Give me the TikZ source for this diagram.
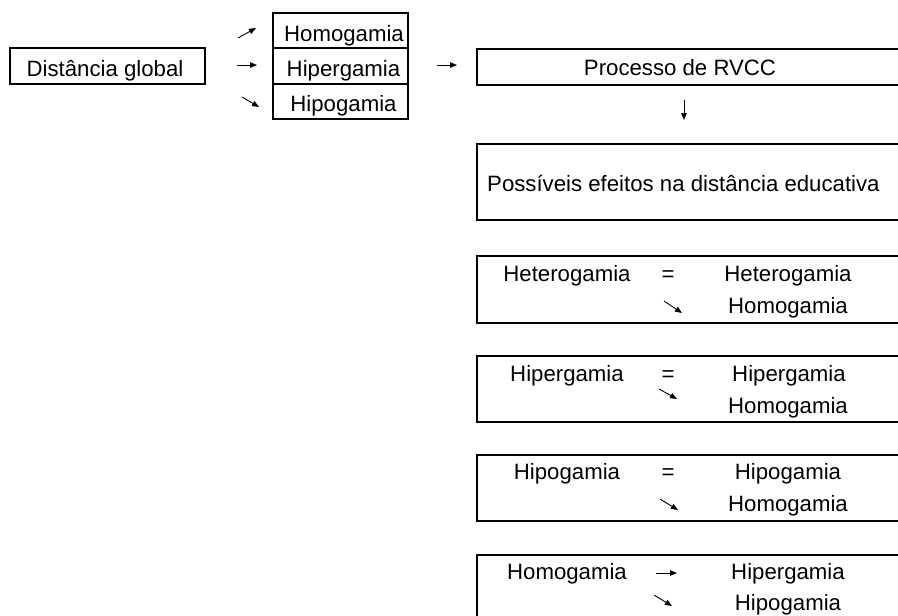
\documentclass[tikz,border=0pt]{standalone}
\usepackage{fontspec}
\setmainfont{Liberation Sans}
\usetikzlibrary{arrows.meta}
\tikzset{
  lbl/.style={anchor=base,inner sep=0pt,font=\fontsize{22.2}{26}\selectfont},
  lbox/.style={draw,line width=1.8pt},
  rbox/.style={draw,line width=1.6pt},
  arr/.style={line width=0.9pt,-{Triangle[length=7pt,width=5.5pt]}}
}
\begin{document}
\begin{tikzpicture}[x=1pt,y=-1pt]
\useasboundingbox (0,0) rectangle (898,616);
\clip (0,0) rectangle (898,616);
% left boxes
\draw[lbox] (10,48) rectangle (205,84);
\node[lbl] (dg) at (105,76) {Distância global};
\draw[lbox] (273,13) rectangle (408,48);
\draw[lbox] (273,48) rectangle (408,84);
\draw[lbox] (273,84) rectangle (408,119);
\node[lbl] (l1) at (344,41) {Homogamia};
\node[lbl] (l2) at (343.5,76.5) {Hipergamia};
\node[lbl] (l3) at (343.5,111) {Hipogamia};
% left arrows
\coordinate (a1s) at (238,38); \coordinate (a1e) at (256,28);
\coordinate (a2s) at (237,65); \coordinate (a2e) at (257,65);
\coordinate (a3s) at (242,97); \coordinate (a3e) at (259,107);
\draw[arr] (a1s) -- (a1e);
\draw[arr] (a2s) -- (a2e);
\draw[arr] (a3s) -- (a3e);
\coordinate (a4s) at (437,65); \coordinate (a4e) at (457,65);
\draw[arr] (a4s) -- (a4e);
% Processo
\draw[rbox] (477,49) rectangle (910,85);
\node[lbl] (pr) at (680,75.5) {Processo de RVCC};
\coordinate (d1s) at (684,100); \coordinate (d1e) at (684,120);
\draw[arr] (d1s) -- (d1e);
% Possiveis
\draw[rbox] (477,144) rectangle (910,220);
\node[lbl,anchor=base west] (pe) at (487,191) {Possíveis efeitos na distância educativa};
% Heterogamia box
\draw[rbox] (477,256) rectangle (910,323);
\node[lbl] (h1a) at (567,281) {Heterogamia};
\node[lbl] (h1e) at (668,281) {=};
\node[lbl] (h1b) at (788,281) {Heterogamia};
\node[lbl] (h1c) at (788,313) {Homogamia};
\coordinate (b1s) at (664,301); \coordinate (b1e) at (682,313);
\draw[arr] (b1s) -- (b1e);
% Hipergamia box
\draw[rbox] (477,356) rectangle (910,422);
\node[lbl] (h2a) at (567,381) {Hipergamia};
\node[lbl] (h2e) at (668,381) {=};
\node[lbl] (h2b) at (789,381) {Hipergamia};
\node[lbl] (h2c) at (788,413) {Homogamia};
\coordinate (b2s) at (659,389); \coordinate (b2e) at (677,399);
\draw[arr] (b2s) -- (b2e);
% Hipogamia box
\draw[rbox] (477,455) rectangle (910,521);
\node[lbl] (h3a) at (567,479) {Hipogamia};
\node[lbl] (h3e) at (668,479) {=};
\node[lbl] (h3b) at (788,479) {Hipogamia};
\node[lbl] (h3c) at (788,511) {Homogamia};
\coordinate (b3s) at (660,499); \coordinate (b3e) at (678,510);
\draw[arr] (b3s) -- (b3e);
% Homogamia box
\draw[rbox] (477,555) rectangle (910,640);
\node[lbl] (h4a) at (567,579) {Homogamia};
\node[lbl] (h4b) at (788,579) {Hipergamia};
\node[lbl] (h4c) at (788,610) {Hipogamia};
\coordinate (b4s) at (656,573); \coordinate (b4e) at (677,573);
\draw[arr] (b4s) -- (b4e);
\coordinate (b5s) at (654,595); \coordinate (b5e) at (672,606);
\draw[arr] (b5s) -- (b5e);
\end{tikzpicture}
\end{document}
